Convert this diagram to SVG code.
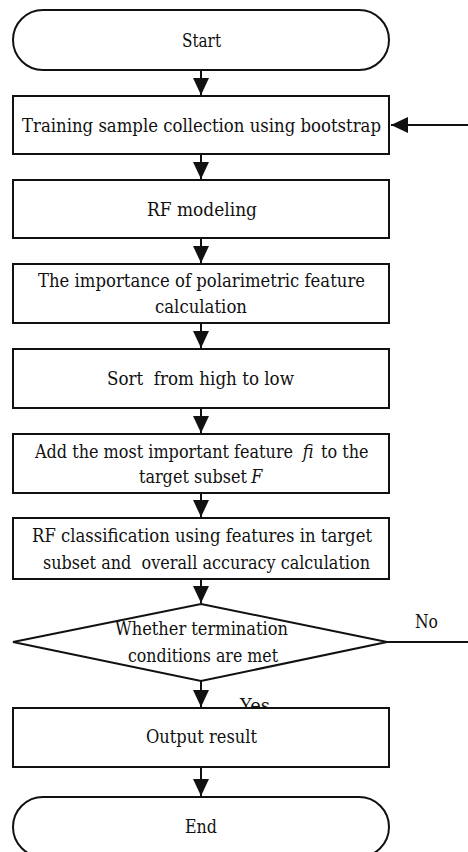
<svg xmlns="http://www.w3.org/2000/svg" width="468" height="852" viewBox="0 0 468 852">
<style>
.s{fill:#fff;stroke:#111;stroke-width:2}
text{font-family:'DejaVu Serif','Liberation Serif',serif;font-size:19px;fill:#111}
.i{font-style:italic}
.c{stroke:#111;stroke-width:2;fill:none}
</style>
<defs>
<marker id="ah" markerUnits="userSpaceOnUse" markerWidth="17" markerHeight="16" refX="17" refY="8" orient="auto">
<path d="M0,0 L17,8 L0,16 z" fill="#111"/>
</marker>
</defs>
<rect width="468" height="852" fill="#fff"/>
<g id="connectors">
<line class="c" x1="201" y1="70" x2="201" y2="95" marker-end="url(#ah)"/>
<line class="c" x1="201" y1="154" x2="201" y2="179" marker-end="url(#ah)"/>
<line class="c" x1="201" y1="238" x2="201" y2="263" marker-end="url(#ah)"/>
<line class="c" x1="201" y1="323" x2="201" y2="348" marker-end="url(#ah)"/>
<line class="c" x1="201" y1="408" x2="201" y2="433" marker-end="url(#ah)"/>
<line class="c" x1="201" y1="493" x2="201" y2="517" marker-end="url(#ah)"/>
<line class="c" x1="201" y1="579" x2="201" y2="603" marker-end="url(#ah)"/>
<line class="c" x1="201" y1="681" x2="201" y2="707" marker-end="url(#ah)"/>
<line class="c" x1="201" y1="767" x2="201" y2="796" marker-end="url(#ah)"/>
<line class="c" x1="468" y1="125" x2="391" y2="125" marker-end="url(#ah)"/>
<line class="c" x1="387" y1="642" x2="468" y2="642"/>
<text x="415" y="628" textLength="23" lengthAdjust="spacingAndGlyphs">No</text>
<text x="240" y="712" textLength="30" lengthAdjust="spacingAndGlyphs">Yes</text>
</g>
<g id="start">
<rect class="s" x="13" y="10" width="376" height="60" rx="30" ry="30"/>
<text x="182" y="47" textLength="39" lengthAdjust="spacingAndGlyphs">Start</text>
</g>
<g id="bootstrap">
<rect class="s" x="13" y="96" width="376" height="58"/>
<text x="22" y="132" textLength="359" lengthAdjust="spacingAndGlyphs">Training sample collection using bootstrap</text>
</g>
<g id="rfmodel">
<rect class="s" x="13" y="180" width="376" height="58"/>
<text x="147" y="216" textLength="110" lengthAdjust="spacingAndGlyphs">RF modeling</text>
</g>
<g id="importance">
<rect class="s" x="13" y="264" width="376" height="59"/>
<text x="38" y="287" textLength="327" lengthAdjust="spacingAndGlyphs">The importance of polarimetric feature</text>
<text x="155" y="313" textLength="92" lengthAdjust="spacingAndGlyphs">calculation</text>
</g>
<g id="sort">
<rect class="s" x="13" y="349" width="376" height="59"/>
<text x="107" y="385" textLength="187" lengthAdjust="spacingAndGlyphs" xml:space="preserve">Sort  from high to low</text>
</g>
<g id="add">
<rect class="s" x="13" y="434" width="376" height="59"/>
<g transform="translate(35,0) scale(0.845,1)">
<text x="0" y="458">Add the most important feature</text>
<text class="i" x="317" y="458">fi</text>
<text x="338.5" y="458">to the</text>
<text x="123" y="483">target subset</text>
<text class="i" x="256" y="483" fill="#444">F</text>
</g>
</g>
<g id="classify">
<rect class="s" x="13" y="518" width="376" height="61"/>
<text x="32" y="542" textLength="340" lengthAdjust="spacingAndGlyphs">RF classification using features in target</text>
<text x="43" y="569" textLength="327" lengthAdjust="spacingAndGlyphs" xml:space="preserve">subset and  overall accuracy calculation</text>
</g>
<g id="decision">
<polygon class="s" points="201,604 387,642 201,681 13,642"/>
<text x="115" y="635" textLength="173" lengthAdjust="spacingAndGlyphs">Whether termination</text>
<text x="128" y="662" textLength="150" lengthAdjust="spacingAndGlyphs">conditions are met</text>
</g>
<g id="output">
<rect class="s" x="13" y="708" width="376" height="59"/>
<text x="146" y="743" textLength="111" lengthAdjust="spacingAndGlyphs">Output result</text>
</g>
<g id="end">
<rect class="s" x="13" y="797" width="376" height="60" rx="30" ry="30"/>
<text x="185" y="833" textLength="32" lengthAdjust="spacingAndGlyphs">End</text>
</g>
</svg>
